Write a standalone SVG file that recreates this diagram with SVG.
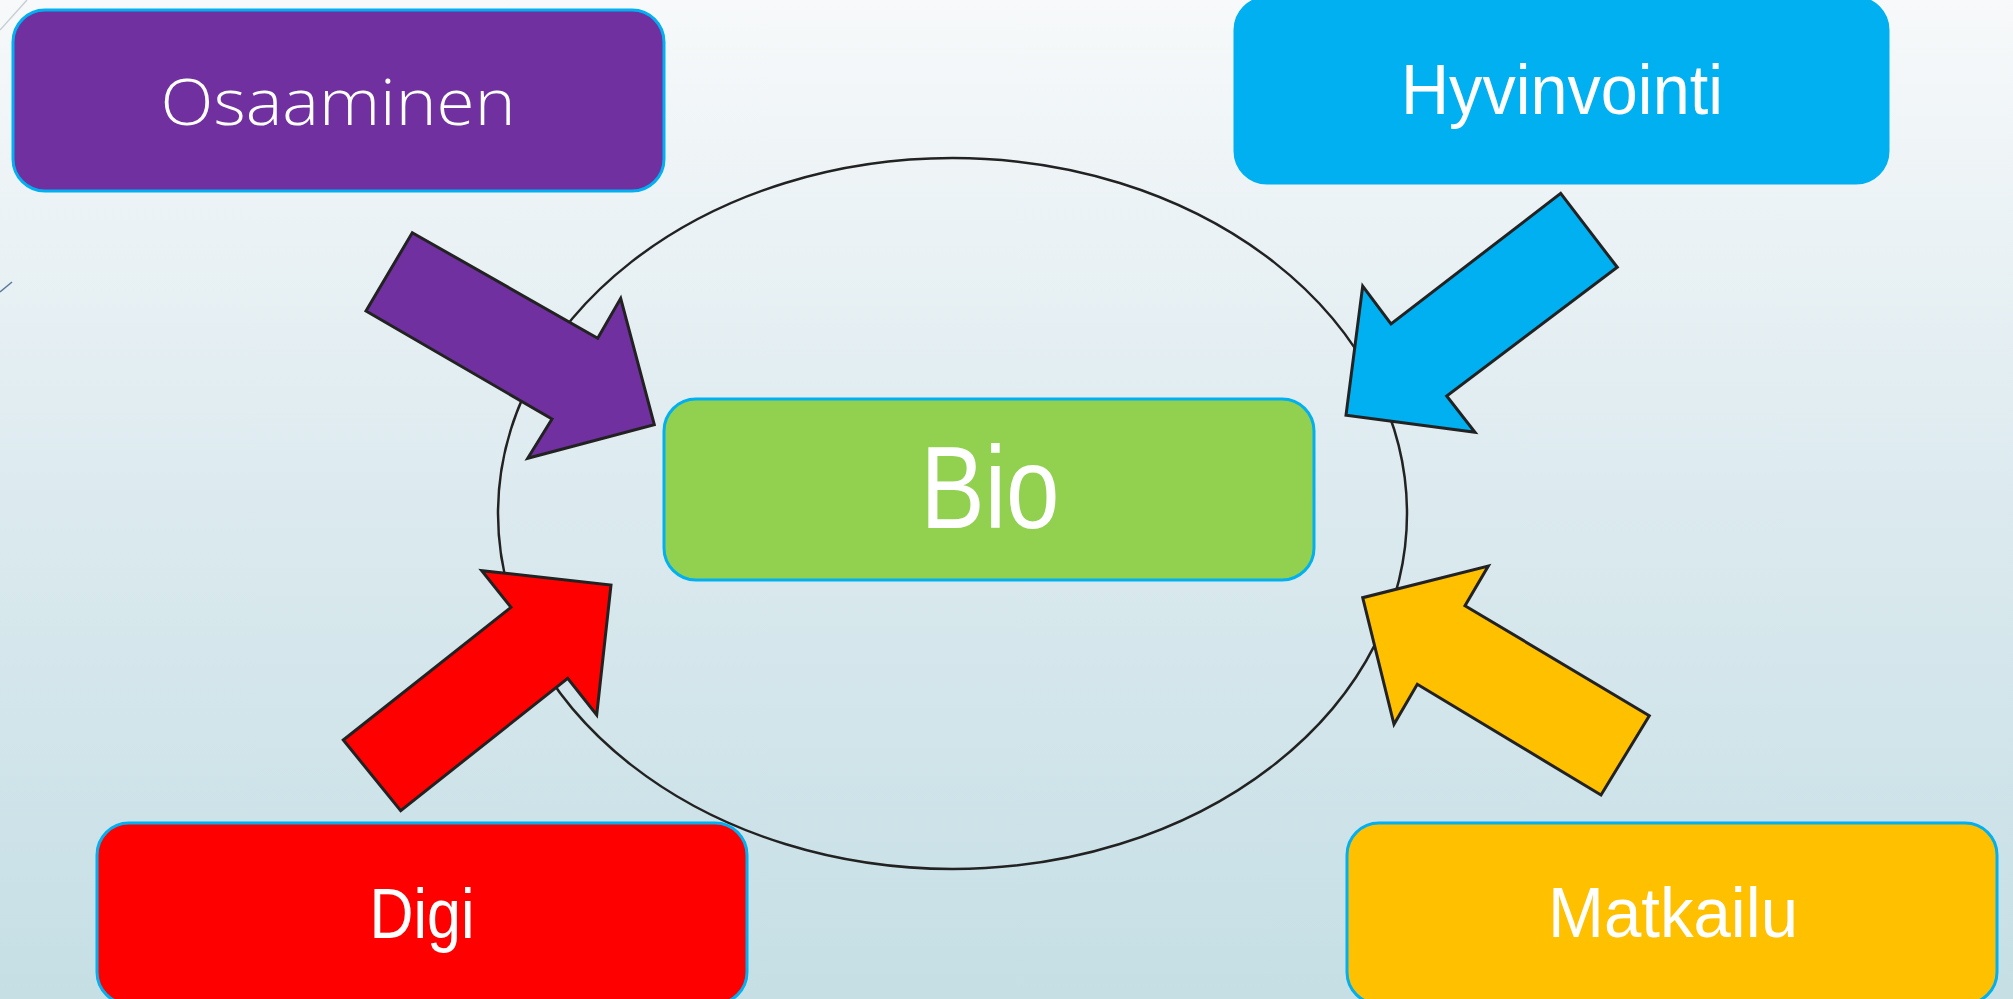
<svg xmlns="http://www.w3.org/2000/svg" width="2013" height="999" viewBox="0 0 2013 999">
<defs>
<linearGradient id="bg" x1="0" y1="0" x2="0" y2="1">
<stop offset="0" stop-color="#f7f9fa"/>
<stop offset="0.5" stop-color="#dceaef"/>
<stop offset="1" stop-color="#c5dfe5"/>
</linearGradient>
<style>
.box{stroke:#00b0f0;stroke-width:3}
.arrow{stroke:#222;stroke-width:3;stroke-linejoin:miter}
.lbl{fill:#fff;text-anchor:middle}
.gothic{font-family:"Open Sans","DejaVu Sans","Liberation Sans",sans-serif;font-weight:300}
.hand{font-family:"Liberation Sans","DejaVu Sans",sans-serif}
</style>
</defs>
<rect x="0" y="0" width="2013" height="999" fill="url(#bg)"/>
<line x1="27" y1="0" x2="0" y2="30" stroke="#c8d0d5" stroke-width="1.5"/>
<line x1="12" y1="282" x2="0" y2="292" stroke="#5a7a99" stroke-width="1.5"/>

<g id="connectors">
<ellipse cx="952.5" cy="513.5" rx="454.5" ry="355.5" fill="none" stroke="#222" stroke-width="2.5"/>
<polygon class="arrow" fill="#7030a0" points="412.3,232.7 597.7,338.3 620.7,298.3 654.3,424.7 527.7,458.3 552,419 366,311"/>
<polygon class="arrow" fill="#00b0f0" points="1560.7,193.3 1617.3,267.3 1446.7,396 1475,432.3 1346,415.3 1362.7,286 1391,324"/>
<polygon class="arrow" fill="#ff0000" points="343.3,740 511,607.3 481.7,570.7 611,585 596.7,715 567.7,678.3 400.7,810.7"/>
<polygon class="arrow" fill="#ffc000" stroke="#000" points="1649.3,715.7 1601,795 1417.3,684.3 1394,724.3 1362.7,597.7 1488.3,566 1465,605.7"/>
</g>

<g id="osaaminen">
<rect class="box" x="13" y="10" width="651" height="181" rx="32" fill="#7030a0"/>
<text class="lbl gothic" x="338" y="125" font-size="64" textLength="355" lengthAdjust="spacingAndGlyphs">Osaaminen</text>
</g>
<g id="hyvinvointi">
<rect class="box" x="1235" y="-2" width="653" height="185" rx="32" fill="#00b0f0"/>
<text class="lbl hand" x="1562" y="114" font-size="70" textLength="322" lengthAdjust="spacingAndGlyphs">Hyvinvointi</text>
</g>
<g id="bio">
<rect class="box" x="664" y="399" width="650" height="181" rx="32" fill="#92d050"/>
<text class="lbl hand" x="990" y="528" font-size="116" textLength="139" lengthAdjust="spacingAndGlyphs">Bio</text>
</g>
<g id="digi">
<rect class="box" x="97" y="823" width="650" height="181" rx="32" fill="#ff0000"/>
<text class="lbl hand" x="422" y="938" font-size="70" textLength="105" lengthAdjust="spacingAndGlyphs">Digi</text>
</g>
<g id="matkailu">
<rect class="box" x="1347" y="823" width="650" height="181" rx="32" fill="#ffc000"/>
<text class="lbl hand" x="1673" y="937" font-size="70" textLength="250" lengthAdjust="spacingAndGlyphs">Matkailu</text>
</g>
</svg>
